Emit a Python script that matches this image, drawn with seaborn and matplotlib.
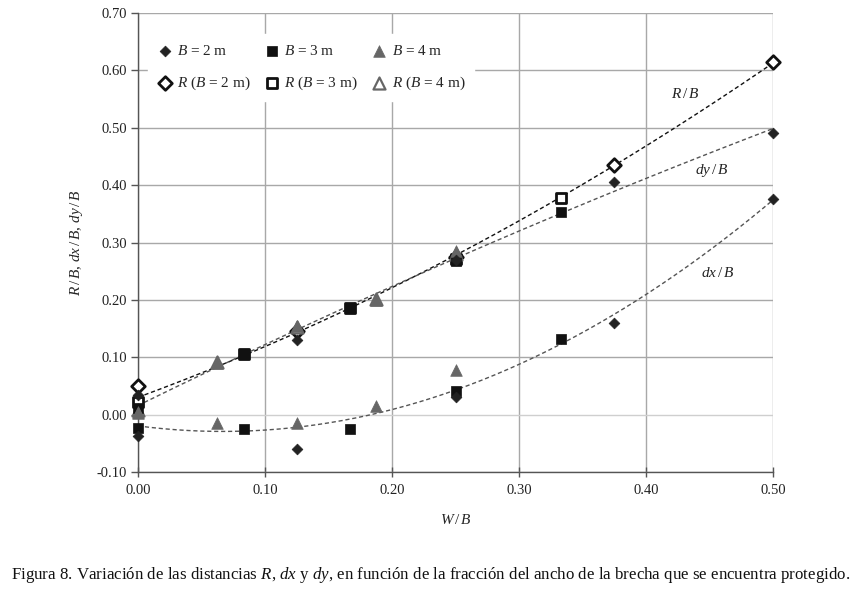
import numpy as np
import pandas as pd
import seaborn as sns
import matplotlib
matplotlib.use("Agg")
import matplotlib.pyplot as plt
from matplotlib.ticker import FixedLocator, FuncFormatter

# ---- data ----
x_b2 = [0.0, 0.125, 0.25, 0.375, 0.5]
x_b3 = [0.0, 0.0833, 0.1667, 0.25, 0.3333]
x_b4 = [0.0, 0.0625, 0.125, 0.1875, 0.25]

dx_b2 = [-0.037, -0.060, 0.030, 0.160, 0.375]
dy_b2 = [0.035, 0.130, 0.270, 0.405, 0.490]
r_b2 = [0.050, 0.145, 0.275, 0.435, 0.615]

dx_b3 = [-0.023, -0.025, -0.025, 0.042, 0.132]
dy_b3 = [0.012, 0.105, 0.185, 0.268, 0.353]
r_b3 = [0.022, 0.106, 0.186, 0.272, 0.377]

dx_b4 = [0.002, -0.015, -0.015, 0.015, 0.078]
dy_b4 = [0.005, 0.090, 0.155, 0.200, 0.285]
r_b4 = [0.008, 0.092, 0.152, 0.201, 0.280]

x_ticks = [0.0, 0.1, 0.2, 0.3, 0.4, 0.5]
y_ticks = [-0.1, 0.0, 0.1, 0.2, 0.3, 0.4, 0.5, 0.6, 0.7]

legend_labels = [r"$B$ = 2 m", r"$B$ = 3 m", r"$B$ = 4 m",
                 r"$R$ ($B$ = 2 m)", r"$R$ ($B$ = 3 m)", r"$R$ ($B$ = 4 m)"]
curve_labels = [r"$R\,/\,B$", r"$dy\,/\,B$", r"$dx\,/\,B$"]
caption = ("Figura 8. Variación de las distancias $R$, $dx$ y $dy$, en función "
           "de la fracción del ancho de la brecha que se encuentra protegido.")

# ---- style ----
sns.set_theme(style="white")
plt.rcParams["font.family"] = ["Liberation Serif", "DejaVu Serif"]
plt.rcParams["mathtext.fontset"] = "custom"
plt.rcParams["mathtext.rm"] = "Liberation Serif"
plt.rcParams["mathtext.it"] = "Liberation Serif:italic"
plt.rcParams["axes.unicode_minus"] = False

fig = plt.figure(figsize=(8.61, 5.94), dpi=100)
ax = fig.add_axes([138 / 861, 1 - 472 / 594, (773 - 138) / 861, (472 - 13) / 594])

# ---- trendlines (2nd order polynomial fits of all series) ----
xs_all = np.array(x_b2 + x_b3 + x_b4)
xfit = np.linspace(0.0, 0.5, 200)
fits = {}
for name, ys in [("R", r_b2 + r_b3 + r_b4),
                 ("dy", dy_b2 + dy_b3 + dy_b4),
                 ("dx", dx_b2 + dx_b3 + dx_b4)]:
    c = np.polyfit(xs_all, np.array(ys), 2)
    fits[name] = np.polyval(c, xfit)

line_styles = {"R": ("#111111", 1.0), "dy": ("#555555", 1.0), "dx": ("#555555", 1.0)}
for name, yv in fits.items():
    col, lw = line_styles[name]
    sns.lineplot(x=xfit, y=yv, ax=ax, color=col, lw=lw, zorder=2,
                 linestyle=(0, (3, 2)), legend=False)

# ---- open markers (R) ----
sns.scatterplot(x=x_b2, y=r_b2, ax=ax, marker="D", s=48, facecolor="white",
                edgecolor="#111111", linewidth=2.0, zorder=3, label=legend_labels[3])
sns.scatterplot(x=x_b3, y=r_b3, ax=ax, marker="s", s=50, facecolor="white",
                edgecolor="#111111", linewidth=2.0, zorder=3, label=legend_labels[4])
sns.scatterplot(x=x_b4, y=r_b4, ax=ax, marker="^", s=75, facecolor="white",
                edgecolor="#666666", linewidth=1.6, zorder=3, label=legend_labels[5])

# ---- filled markers (dx, dy) ----
sns.scatterplot(x=x_b2 + x_b2, y=dy_b2 + dx_b2, ax=ax, marker="D", s=30,
                color="#222222", edgecolor="#222222", linewidth=0.5, zorder=5,
                label=legend_labels[0])
sns.scatterplot(x=x_b3 + x_b3, y=dy_b3 + dx_b3, ax=ax, marker="s", s=50,
                color="#111111", edgecolor="#111111", linewidth=0.5, zorder=4,
                label=legend_labels[1])
sns.scatterplot(x=x_b4 + x_b4, y=dy_b4 + dx_b4, ax=ax, marker="^", s=70,
                color="#666666", edgecolor="#666666", linewidth=0.5, zorder=4,
                label=legend_labels[2])

for coll in ax.collections:
    coll.set_clip_on(False)

# ---- axes ----
ax.set_xlim(0.0, 0.5)
ax.set_ylim(-0.1, 0.7)
ax.xaxis.set_major_locator(FixedLocator(x_ticks))
ax.yaxis.set_major_locator(FixedLocator(y_ticks))
fmt = FuncFormatter(lambda v, p: f"{v:.2f}")
ax.xaxis.set_major_formatter(fmt)
ax.yaxis.set_major_formatter(fmt)
ax.tick_params(axis="both", labelsize=10.5, colors="#222222")
ax.tick_params(axis="y", direction="out", length=5, width=1, color="#555555", left=True, pad=3)
ax.tick_params(axis="x", direction="inout", length=7, width=1, color="#555555", bottom=True, pad=5)

for sp in ["top", "right"]:
    ax.spines[sp].set_visible(False)
for sp in ["left", "bottom"]:
    ax.spines[sp].set_color("#555555")
    ax.spines[sp].set_linewidth(1.0)

ax.grid(True, axis="both", color="#a8a8a8", linewidth=1.0, zorder=0)
ax.set_axisbelow(True)
for gl, yv in zip(ax.yaxis.get_gridlines(), y_ticks):
    if abs(yv) < 1e-9:
        gl.set_color("#cfcfcf")

ax.set_xlabel(r"$W\,/\,B$", fontsize=11, labelpad=12)
ax.set_ylabel(r"$R\,/\,B$, $dx\,/\,B$, $dy\,/\,B$", fontsize=11, labelpad=8)

# ---- curve labels ----
ax.text(0.4307, 0.5585, curve_labels[0], fontsize=11, ha="center", va="center", color="#222222")
ax.text(0.452, 0.426, curve_labels[1], fontsize=11, ha="center", va="center", color="#222222")
ax.text(0.4567, 0.2476, curve_labels[2], fontsize=11, ha="center", va="center", color="#222222")

# ---- legend ----
h, l = ax.get_legend_handles_labels()
order = [legend_labels[0], legend_labels[3], legend_labels[1],
         legend_labels[4], legend_labels[2], legend_labels[5]]
hmap = dict(zip(l, h))
leg = ax.legend([hmap[k] for k in order], order, loc="upper left",
                bbox_to_anchor=(0.004, 0.97), ncol=3, frameon=True,
                fancybox=False, framealpha=1.0, facecolor="white", edgecolor="white",
                fontsize=11, labelspacing=1.1, columnspacing=0.9,
                handletextpad=0.3, handlelength=1.0, borderpad=0.6)
leg.set_zorder(6)

fig.text(0.5, 1 - 575 / 594, caption, ha="center", va="center", fontsize=12.2, color="#111111")

fig.savefig("out.png", dpi=100)
